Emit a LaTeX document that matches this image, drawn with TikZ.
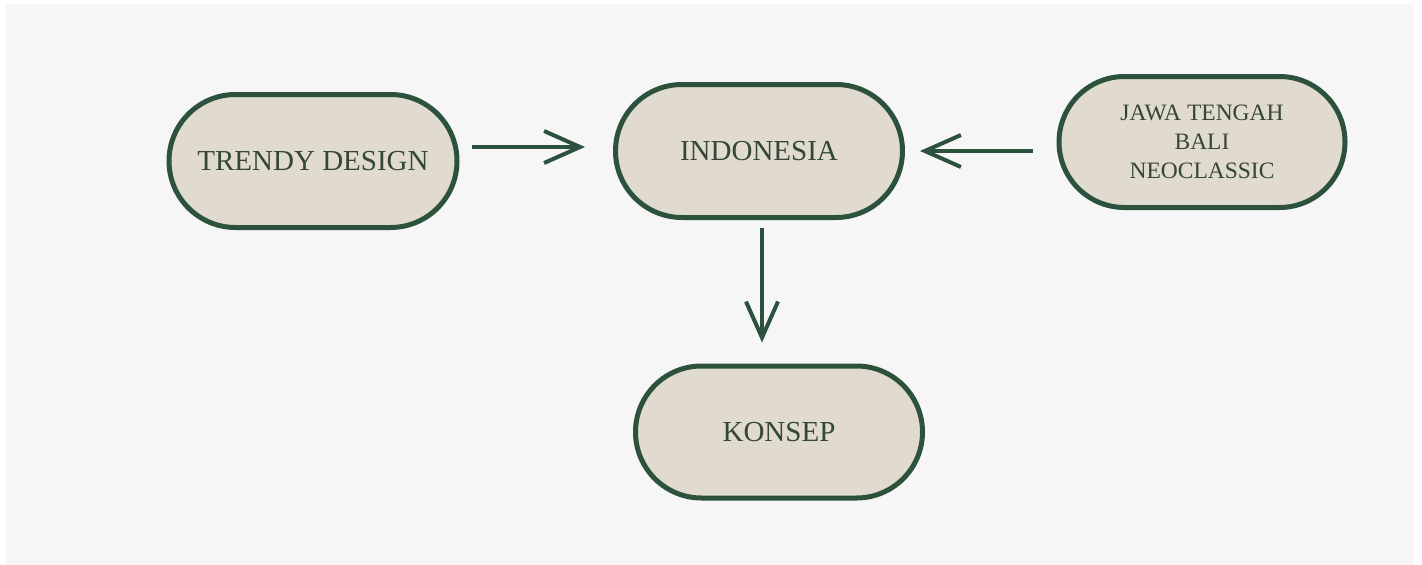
\documentclass[tikz,border=0pt]{standalone}
\usepackage{fontspec}
\setmainfont{Liberation Serif}
\usetikzlibrary{shapes.misc,arrows.meta}
\definecolor{bordergreen}{RGB}{44,82,62}
\definecolor{boxfill}{RGB}{224,219,206}
\definecolor{textgreen}{RGB}{52,70,54}
\definecolor{bggray}{RGB}{246,246,246}
\tikzset{
  pill/.style={rounded rectangle, draw=bordergreen, fill=boxfill, line width=5pt,
    inner sep=0pt, text=textgreen, align=center,
    font=\fontsize{29}{32}\selectfont},
  arr/.style={draw=bordergreen, line width=4pt,
    -{Straight Barb[length=36pt,width=32pt,line width=4pt]}}
}
\begin{document}
\begin{tikzpicture}[x=1pt,y=-1pt]
\useasboundingbox (0,0) rectangle (1422,565);
\fill[white] (0,0) rectangle (1422,565);
\fill[bggray] (6,4) rectangle (1413,565);
\node[pill, minimum width=288pt, minimum height=133pt] (td) at (313,161) {TRENDY DESIGN};
\node[pill, minimum width=287pt, minimum height=133pt] (ind) at (759,151) {INDONESIA};
\node[pill, minimum width=286pt, minimum height=131pt,
  font=\fontsize{23.5}{29}\selectfont] (jawa) at (1202,142) {JAWA TENGAH\\BALI\\NEOCLASSIC};
\node[pill, minimum width=287pt, minimum height=132pt] (kon) at (779,432) {KONSEP};
\draw[arr] ([shift={(12,-14)}]td.east) -- ([shift={(-28,-4)}]ind.west);
\draw[arr] ([shift={(-24,9)}]jawa.west) -- ([shift={(15,0)}]ind.east);
\draw[arr] ([shift={(3,8)}]ind.south) -- ([shift={(-17,-21)}]kon.north);
\end{tikzpicture}
\end{document}
